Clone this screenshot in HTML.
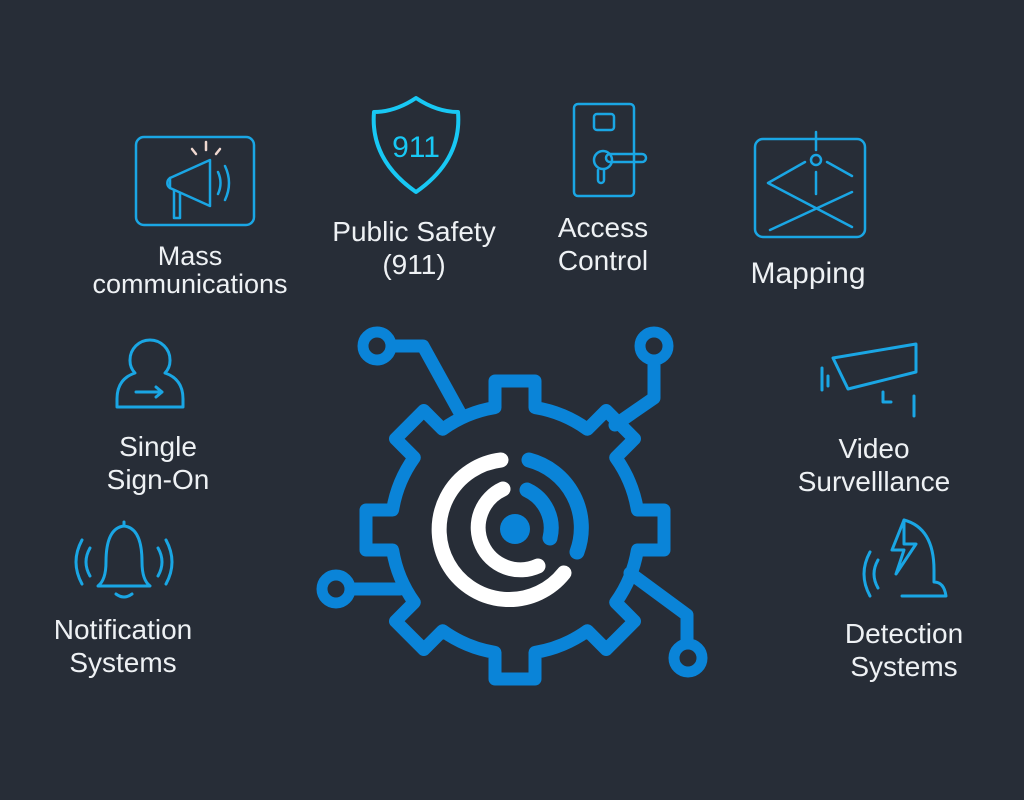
<!DOCTYPE html>
<html><head><meta charset="utf-8"><style>
html,body{margin:0;padding:0;background:#272d37;}
body{width:1024px;height:800px;position:relative;overflow:hidden;font-family:"Liberation Sans",sans-serif;}
.t{position:absolute;color:#eef1f4;font-size:28px;text-align:center;line-height:33px;transform:translateX(-50%);white-space:nowrap;}
svg{position:absolute;left:0;top:0;}
</style></head><body>
<svg width="1024" height="800" viewBox="0 0 1024 800">
<g fill="none" stroke="#1aa6e4" stroke-width="2.5" stroke-linecap="round" stroke-linejoin="round">
 <rect x="136" y="137" width="118" height="88" rx="8"/>
 <path d="M170 178 L210 160 L210 206 L170 188 Z"/>
 <path d="M170 178 a6 6 0 0 0 0 10"/>
 <path d="M174 190 L174 218 L180 218 L180 193"/>
 <path d="M218 172 q5 11 0 22 M225 166 q8 17 0 34"/>
 <path d="M206 150 l0 -8 M196 154 l-4 -5 M216 154 l4 -5" stroke="#f0d8d0"/>
 <path d="M416 98 Q395 112 374 112 Q370 160 416 192 Q462 160 458 112 Q437 112 416 98 Z" stroke="#18c8f4" stroke-width="4"/>
 <rect x="574" y="104" width="60" height="92" rx="4"/>
 <rect x="594" y="114" width="20" height="16" rx="3"/>
 <path d="M598 170 l0 10 a3 3 0 0 0 6 0 l0 -10"/>
 <circle cx="603" cy="160" r="9"/>
 <rect x="606" y="154" width="40" height="8" rx="4"/>
 <rect x="755" y="139" width="110" height="98" rx="8"/>
 <line x1="816" y1="132" x2="816" y2="150"/>
 <circle cx="816" cy="160" r="5"/>
 <line x1="816" y1="172" x2="816" y2="194"/>
 <path d="M805 162 L768 183 L852 227 M827 162 L852 176 M852 192 L770 230"/>
 <path d="M150 340 a20 20 0 0 1 20 20 a18 18 0 0 1 -5 13 q18 6 18 26 l0 8 l-66 0 l0 -8 q0 -20 18 -26 a18 18 0 0 1 -5 -13 a20 20 0 0 1 20 -20 Z" stroke-width="3"/>
 <path d="M136 392 l26 0 m-6 -5 l6 5 l-6 5" stroke-width="3"/>
 <path d="M833 358 L916 344 L916 372 L848 389 Z" stroke-width="3"/>
 <path d="M822 368 l0 22 M828 376 l0 10 M883 392 l0 10 l8 0 M914 396 l0 20" stroke-width="3"/>
 <path d="M124 522 l0 4 M98 586 q8 -6 8 -24 q0 -34 18 -36 q18 2 18 36 q0 18 8 24 Z M116 594 q8 6 16 0" stroke-width="3"/>
 <path d="M90 548 q-8 14 0 28 M82 540 q-12 22 0 44 M158 548 q8 14 0 28 M166 540 q12 22 0 44" stroke-width="3"/>
 <path d="M904 520 q30 8 30 50 l0 12 q10 0 12 14 l-44 0" stroke-width="3"/>
 <path d="M904 520 l-12 30 l12 0 l-8 24 l20 -30 l-12 0 Z" stroke-width="3"/>
 <path d="M878 560 q-8 14 0 28 M870 552 q-12 22 0 44" stroke-width="3"/>
</g>
<text x="416" y="157" font-family="Liberation Sans" font-size="30" fill="#18c8f4" text-anchor="middle">911</text>

<g fill="none" stroke="#0a84d8" stroke-width="13" stroke-linejoin="round" stroke-linecap="round">
 <path id="gear" d=""/>
 <path d="M377 346 L423 346 L460 413"/>
 <path d="M654 346 L654 398 L615 425"/>
 <path d="M336 589 L400 589"/>
 <path d="M630 573 L687 615 L687 652"/>
</g>
<g fill="#272d37" stroke="#0a84d8" stroke-width="11">
 <circle cx="377" cy="346" r="14"/>
 <circle cx="654" cy="346" r="14"/>
 <circle cx="336" cy="589" r="14"/>
 <circle cx="688" cy="658" r="14"/>
</g>
<g fill="none" stroke-width="15" stroke-linecap="round">
 <path d="M501 460 A70 70 0 1 0 564 573" stroke="#ffffff"/>
 <path d="M503 489 A42 42 0 1 0 538 566" stroke="#ffffff"/>
 <path d="M529 460 A70 70 0 0 1 577 552" stroke="#0a84d8"/>
 <path d="M527 490 A42 42 0 0 1 550 538" stroke="#0a84d8"/>
</g>
<circle cx="515" cy="529" r="15" fill="#0a84d8"/>
</svg>
<script>
(function(){
var cx=515,cy=530,R=124,T=149,hw=20,p=[];
for(var i=0;i<8;i++){
 var a=(i*45-90)*Math.PI/180;
 var ux=Math.cos(a),uy=Math.sin(a),vx=-uy,vy=ux;
 var b=Math.asin(hw/R);
 var a1=a-b;
 p.push([cx+R*Math.cos(a1),cy+R*Math.sin(a1),'arc']);
 p.push([cx+ux*T-vx*hw,cy+uy*T-vy*hw,'L']);
 p.push([cx+ux*T+vx*hw,cy+uy*T+vy*hw,'L']);
 var a2=a+b;
 p.push([cx+R*Math.cos(a2),cy+R*Math.sin(a2),'L']);
}
var d='M'+p[0][0].toFixed(1)+' '+p[0][1].toFixed(1);
for(var j=1;j<p.length;j++){
 if(p[j][2]=='arc') d+=' A'+R+' '+R+' 0 0 1 '+p[j][0].toFixed(1)+' '+p[j][1].toFixed(1);
 else d+=' L'+p[j][0].toFixed(1)+' '+p[j][1].toFixed(1);
}
d+=' A'+R+' '+R+' 0 0 1 '+p[0][0].toFixed(1)+' '+p[0][1].toFixed(1)+' Z';
document.getElementById('gear').setAttribute('d',d);
})();
</script>
<div class="t" style="left:190px;top:242px;font-size:27px;line-height:28px">Mass<br>communications</div>
<div class="t" style="left:414px;top:215px;">Public Safety<br>(911)</div>
<div class="t" style="left:603px;top:211px;">Access<br>Control</div>
<div class="t" style="left:808px;top:257px;font-size:30px">Mapping</div>
<div class="t" style="left:158px;top:430px;">Single<br>Sign-On</div>
<div class="t" style="left:874px;top:432px;">Video<br>Survelllance</div>
<div class="t" style="left:123px;top:613px;">Notification<br>Systems</div>
<div class="t" style="left:904px;top:617px;">Detection<br>Systems</div>
</body></html>
